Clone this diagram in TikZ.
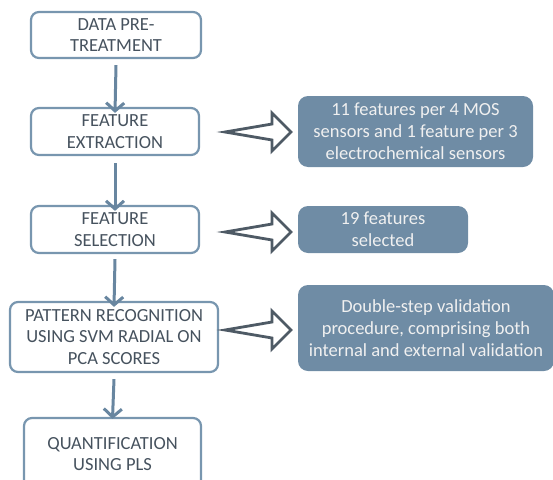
\documentclass[tikz,border=0pt]{standalone}
\usepackage{fontspec}
\setmainfont{Carlito}
\usetikzlibrary{arrows.meta,calc}
\definecolor{boxline}{HTML}{7896AF}
\definecolor{txt}{HTML}{46525E}
\definecolor{fillb}{HTML}{6F8CA5}
\definecolor{arrc}{HTML}{6886A0}
\definecolor{blk}{HTML}{4E5A65}
\tikzset{
  stepbox/.style={draw=boxline, line width=2.2pt, rounded corners=8pt, fill=white,
    text=txt, align=center, inner sep=0pt,
    font=\fontsize{18.5}{21.7}\selectfont},
  infobox/.style={fill=fillb, rounded corners=10pt, text=white!94!black, align=center,
    inner sep=0pt, font=\fontsize{18.5}{22}\selectfont},
  down/.style={draw=arrc, line width=3pt, -{Straight Barb[length=8pt,width=18pt,line width=3pt]}},
  blkarrow/.style={draw=blk, line width=2.8pt, fill=white, line join=miter}
}
\newcommand\blockarrow[2]{%
  \draw[blkarrow] (#1) -- ($(#2)+(-19,-8)$) -- ($(#2)+(-19,-19)$) -- (#2)
    -- ($(#2)+(-19,19)$) -- ($(#2)+(-19,8)$) -- cycle;}
\begin{document}
\begin{tikzpicture}[x=1pt,y=-1pt]
\useasboundingbox (0,0) rectangle (553,479);
\clip (0,0) rectangle (553,479);
\node[stepbox, minimum width=170pt, minimum height=46pt] (b1) at (116,35) {DATA PRE-\\TREATMENT};
\node[stepbox, minimum width=168pt, minimum height=47pt] (b2) at (115,131.5) {FEATURE\\EXTRACTION};
\node[stepbox, minimum width=168pt, minimum height=47pt] (b3) at (115,229.5) {FEATURE\\SELECTION};
\node[stepbox, minimum width=208pt, minimum height=70pt] (b4) at (114,337) {PATTERN RECOGNITION\\USING SVM RADIAL ON\\PCA SCORES};
\node[stepbox, minimum width=177pt, minimum height=72pt] (b5) at (112.5,454) {QUANTIFICATION\\USING PLS};

\node[infobox, minimum width=235pt, minimum height=71pt] (r1) at (415.5,131.5) {11 features per 4 MOS\\sensors and 1 feature per 3\\electrochemical sensors};
\node[infobox, minimum width=170pt, minimum height=47pt] (r2) at (383,229.5) {19 features\\selected};
\node[infobox, minimum width=256pt, minimum height=86pt] (r3) at (426,328) {Double-step validation\\procedure, comprising both\\internal and external validation};

\draw[down] ([yshift=-6pt]b1.south) -- ([yshift=-6pt]b2.north);
\draw[down] ([yshift=-7pt]b2.south) -- ([yshift=-6pt]b3.north);
\draw[down] ([yshift=-5pt]b3.south) -- ([yshift=-6pt]b4.north);
\draw[down] ([yshift=-6pt]b4.south) -- ([yshift=-2pt]b5.north);

\coordinate (t1) at (225,132); \coordinate (h1) at (291,132);
\coordinate (t2) at (225,232); \coordinate (h2) at (291,232);
\coordinate (t3) at (225,330); \coordinate (h3) at (291,330);
\blockarrow{t1}{h1}
\blockarrow{t2}{h2}
\blockarrow{t3}{h3}
\end{tikzpicture}
\end{document}
